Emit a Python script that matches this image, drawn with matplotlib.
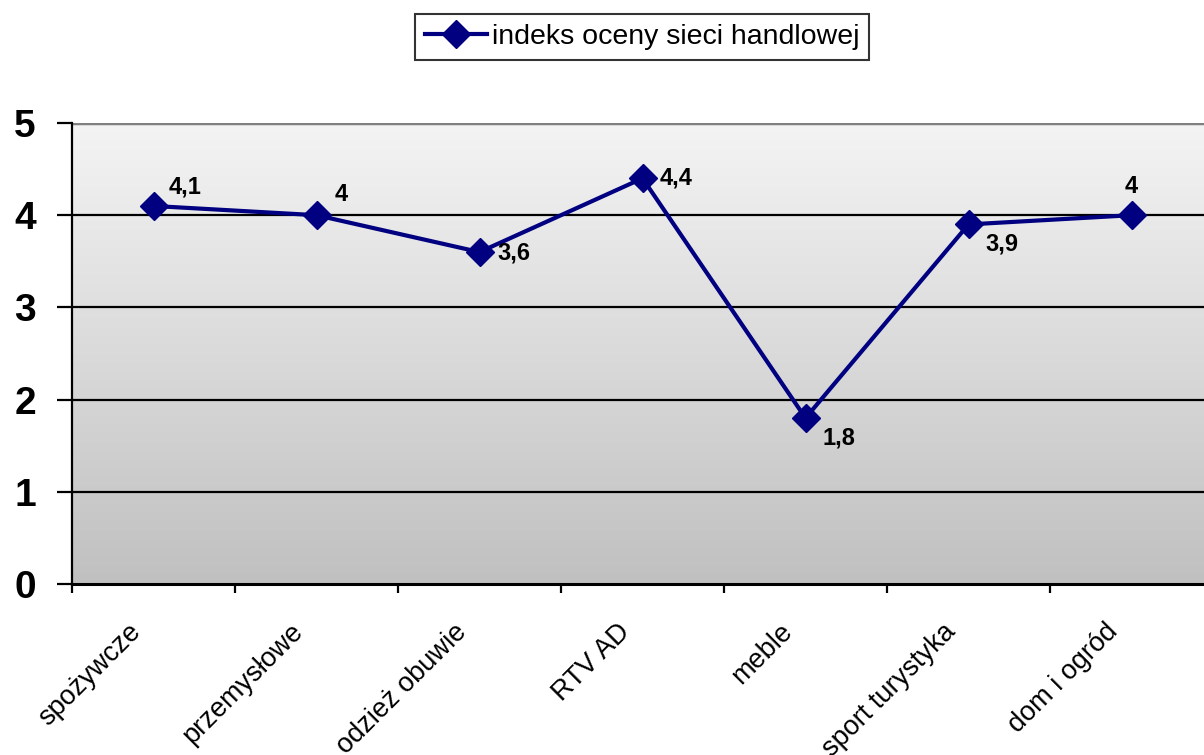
import numpy as np
import matplotlib
matplotlib.use("Agg")
import matplotlib.pyplot as plt
from matplotlib.colors import LinearSegmentedColormap

categories = ["spożywcze", "przemysłowe", "odzież obuwie", "RTV AD", "meble",
              "sport turystyka", "dom i ogród"]
values = [4.1, 4.0, 3.6, 4.4, 1.8, 3.9, 4.0]
value_labels = ["4,1", "4", "3,6", "4,4", "1,8", "3,9", "4"]
series_name = "indeks oceny sieci handlowej"
yticks = [0, 1, 2, 3, 4, 5]

# label offsets in pixels (style, not data)
label_offsets = [(15, 19), (18, 21), (18, -1), (17, 0), (17, -20), (17, -20), (0, 29)]
label_ha = ["left", "left", "left", "left", "left", "left", "center"]

plt.rcParams['font.family'] = ['Liberation Sans', 'DejaVu Sans']

fig = plt.figure(figsize=(12.04, 7.55), dpi=100)
W, H = 1204, 755
left, right, top, bottom = 72, 1213, 123, 584
ax = fig.add_axes([left / W, 1 - bottom / H, (right - left) / W, (bottom - top) / H])

n = len(categories)
ax.set_xlim(0, n)
ax.set_ylim(0, 5)

# gradient background
cmap = LinearSegmentedColormap.from_list("g", ["#c0c0c0", "#f4f4f4"])
grad = np.linspace(0, 1, 256).reshape(-1, 1)
ax.imshow(grad, extent=[0, n, 0, 5], origin="lower", aspect="auto", cmap=cmap, zorder=0)

for y in yticks[1:-1]:
    ax.axhline(y, color="black", lw=1.6, zorder=1)
ax.axhline(5, color="#808080", lw=2.5, zorder=1)

x = np.arange(n) + 0.5
ax.plot(x, values, color="#000080", lw=3.0, marker="D", markersize=14,
        label=series_name, zorder=3, clip_on=False)

for xi, v, lab, off, ha in zip(x, values, value_labels, label_offsets, label_ha):
    ax.annotate(lab, (xi, v), xytext=off, textcoords="offset pixels",
                ha=ha, va="center", fontsize=17, fontweight="bold", zorder=4)

for s in ["top", "right"]:
    ax.spines[s].set_visible(False)
ax.spines["left"].set_linewidth(1.6)
ax.spines["bottom"].set_linewidth(2.2)

ax.set_yticks(yticks)
ax.set_yticklabels([str(t) for t in yticks], fontsize=28, fontweight="bold")
ax.tick_params(axis="y", length=11, width=1.6, pad=15)

ax.set_xticks(np.arange(n + 1))
ax.set_xticklabels([])
ax.tick_params(axis="x", length=6.5, width=1.6)

for xi, cat in zip(x, categories):
    ax.annotate(cat, (xi, 0), xytext=(-17, -44), textcoords="offset pixels",
                rotation=45, ha="right", va="center", rotation_mode="anchor",
                fontsize=19.5, annotation_clip=False)

leg = fig.legend(loc="upper center", bbox_to_anchor=(642 / W, 1 - 14 / H),
                 fontsize=20.5, frameon=True, fancybox=False, edgecolor="black",
                 handlelength=2.2, handletextpad=0.15, borderpad=0.35,
                 borderaxespad=0)
leg.get_frame().set_linewidth(1.5)

fig.savefig("out.png", dpi=100)
